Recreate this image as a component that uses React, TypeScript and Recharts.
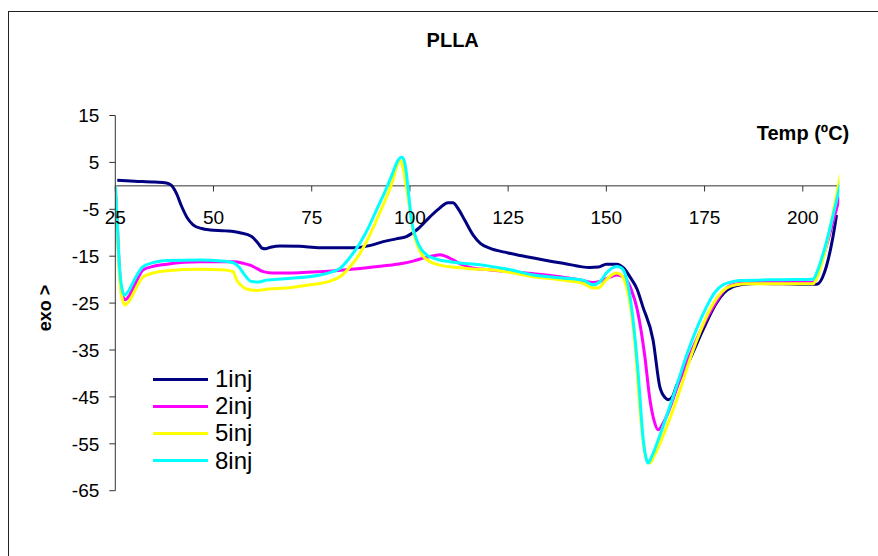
import { LineChart, Line, XAxis, YAxis, ReferenceLine, Legend } from "recharts";

// DSC heating scans of PLLA after repeated injections: [temperature ºC, heat flow]
const xTicks = [25, 50, 75, 100, 125, 150, 175, 200];
const yTicks = [-65, -55, -45, -35, -25, -15, -5, 5, 15];

const inj1: [number, number][] = [
  [25.5, 1.2], [30, 1.0], [35, 0.8], [38, 0.6], [39.3, 0.1], [40.5, -1.5], [41.9, -4.4], [43.3, -6.8], [44.8, -8.3],
  [47, -9.1], [49.1, -9.4], [53, -9.6], [56.7, -10.0], [59.7, -10.8], [61.3, -12.2], [62.4, -13.3], [63.2, -13.4],
  [64.5, -13.1], [66.9, -12.8], [72, -12.9], [77.1, -13.2], [85.6, -13.2], [90, -12.7], [93.2, -11.9],
  [96.5, -11.3], [99.1, -10.8], [102, -9.2], [105.1, -6.6], [107.5, -4.8], [109.7, -3.6], [111, -3.6],
  [111.9, -4.4], [114, -7.4], [116.1, -10.5], [118, -12.3], [120.3, -13.3], [125, -14.3], [129.7, -15.1],
  [139, -16.5], [145.8, -17.4], [148, -17.3], [150, -16.7], [152.6, -16.7], [154.5, -17.6], [156, -19.4],
  [157.8, -22], [159.3, -25.8], [161.9, -32.9], [163.6, -42.8], [165, -45.2], [165.7, -45.6], [166.8, -45],
  [167.8, -42.8], [171.2, -37.1], [174.6, -30.7], [178, -25], [180, -22.8], [182.3, -21.5], [185, -21],
  [188.2, -20.8], [195, -20.9], [203.5, -21], [206, -17.2], [207.7, -10.8], [208.6, -6.2],
];

const inj2: [number, number][] = [
  [25, 0], [25.5, -8], [26, -17], [26.6, -22.5], [27.5, -24.3], [28.5, -23.5], [30, -21], [32.1, -17.9],
  [35, -17.1], [38.1, -16.7], [46.5, -16.2], [55, -16.2], [57.5, -16.5], [59.3, -16.9], [61, -17.6],
  [62.7, -18.3], [65, -18.6], [68.6, -18.6], [77.1, -18.3], [87.3, -17.6], [93, -17.1], [98.3, -16.5],
  [101, -16], [103.4, -15.4], [106, -14.9], [107.6, -14.7], [109, -15], [111, -15.8], [113, -16.7],
  [115.3, -17.4], [120, -17.9], [125.4, -18.3], [132, -18.8], [138.2, -19.4], [144, -20.2], [146.6, -20.6],
  [148.3, -20.4], [150.5, -19.6], [152.6, -19], [154, -19.3], [155.1, -20], [156.5, -22.5], [157.7, -25.8],
  [159.8, -36.4], [161.1, -45.6], [162.2, -50.2], [163.2, -52], [164.9, -49.9], [168.7, -41.4],
  [172.9, -32.9], [177.2, -25.8], [179.3, -23], [181.4, -21.3], [184, -20.8], [186.5, -20.6], [195, -20.6],
  [202.6, -20.6], [203.7, -19], [205.2, -15.1], [209.4, -2.3],
];

const inj5: [number, number][] = [
  [25, 0], [25.5, -9], [26, -18], [26.6, -23.5], [27.5, -25.4], [28.5, -24.6], [30, -22.3], [32.1, -19.4],
  [35, -18.5], [38.1, -18.1], [46.5, -17.8], [52, -17.9], [55, -18.3], [55.9, -20.1], [57, -21.2],
  [58.4, -22], [61, -22.3], [64, -22], [68.6, -21.8], [74.5, -21.1], [77.1, -20.8], [80, -20.2],
  [82.2, -19.4], [84.5, -17.5], [87.3, -14.4], [89.5, -11], [91.5, -7.3], [93.5, -3.5], [95.5, 0.8],
  [96.8, 4.5], [97.4, 5.5], [98.2, 4], [99.1, -0.2], [100, -5], [100.8, -9.4], [102, -12.8], [103.4, -15.1],
  [105.5, -16.3], [107.6, -16.9], [114.4, -17.6], [122.9, -18.1], [131.4, -19.4], [138, -20], [144.1, -20.8],
  [146.6, -21.8], [147.9, -21.8], [150, -20], [152.6, -18.6], [154, -19.2], [155.1, -21.5], [156.2, -26],
  [157.2, -32.9], [158.5, -47.1], [159.8, -57], [160.4, -58.6], [161.1, -59.1], [162.2, -57.5], [164, -54.2],
  [167.9, -45.6], [172.1, -35], [176.3, -26.5], [178.5, -23.5], [180.6, -21.8], [183, -21.1], [185.7, -20.9],
  [195, -20.9], [202.6, -20.9], [203.8, -19.2], [205.2, -15.4], [209.6, 2.5],
];

const inj8: [number, number][] = [
  [25, 0], [25.5, -8], [26, -16.5], [26.6, -21.5], [27.3, -23.3], [28.3, -22.5], [30, -19.8], [32.1, -17.2],
  [35, -16.3], [38.1, -15.9], [46.5, -15.8], [52, -16], [55, -16.4], [56.5, -17.3], [57.6, -18.6],
  [59.7, -20.4], [61.5, -20.5], [63.5, -20.1], [68, -19.8], [77.1, -19], [80, -18.4], [82.2, -17.6],
  [84.5, -15.5], [87.3, -12.2], [89.5, -8.8], [91.5, -5.1], [93.5, -1.5], [95.5, 2.5], [97, 5.5], [97.9, 6.1],
  [98.6, 5.2], [99.1, 2.7], [99.7, -2], [100.4, -7.3], [101.7, -11.5], [104.2, -14.7], [107, -15.7],
  [110.2, -16.2], [118.6, -16.9], [125, -17.8], [131.4, -19], [138, -19.6], [144.1, -20.1], [146.6, -21.1],
  [148.3, -20.5], [150, -18.6], [152.6, -17.2], [153.6, -17.4], [154.7, -18.6], [155.6, -21.5], [156.4, -25.8],
  [158.1, -40], [159.4, -54.2], [160.1, -58], [160.6, -59.1], [161.5, -57.8], [163.2, -54.2], [167, -44.9],
  [171.2, -34.3], [175.5, -25.8], [177.5, -22.8], [179.7, -21.1], [181.8, -20.5], [183.9, -20.2], [195, -20],
  [202.6, -19.9], [203.8, -18], [205.2, -14.4], [209.8, 1.3],
];

const series = [
  { name: "1inj", color: "#000080", points: inj1 },
  { name: "2inj", color: "#FF00FF", points: inj2 },
  { name: "5inj", color: "#FFFF00", points: inj5 },
  { name: "8inj", color: "#00FFFF", points: inj8 },
];

const FONT = '"Liberation Sans", Arial, sans-serif';
const AXIS = "#333";

const toRows = (pts: [number, number][]) => pts.map(([t, v]) => ({ t, v }));

function LegendBox() {
  return (
    <div style={{ fontFamily: FONT }}>
      {series.map((s) => (
        <div key={s.name} style={{ display: "flex", alignItems: "center", height: 27.2 }}>
          <div style={{ width: 55, height: 3, background: s.color, marginRight: 7 }} />
          <span style={{ fontSize: 24, lineHeight: 1, color: "#000" }}>{s.name}</span>
        </div>
      ))}
    </div>
  );
}

const text = (x: number, y: number, extra: React.CSSProperties = {}): React.CSSProperties => ({
  position: "absolute",
  left: x,
  top: y,
  transform: "translate(-50%, -50%)",
  fontFamily: FONT,
  fontWeight: "bold",
  whiteSpace: "nowrap",
  lineHeight: 1,
  ...extra,
});

export default function App() {
  return (
    <div style={{ position: "fixed", left: 0, top: 0, width: 878, height: 556, overflow: "hidden", background: "#fff" }}>
      <div style={{ position: "absolute", left: 8, top: 11, width: 900, height: 600, border: "1px solid #222" }} />
      <div style={{ position: "absolute", left: 0, top: 0 }}>
        <LineChart width={878} height={556} margin={{ top: 115.5, right: 38.7, bottom: 65.3, left: 55.3 }}>
          <XAxis type="number" dataKey="t" domain={[25, 209.3]} hide allowDataOverflow />
          <YAxis
            type="number"
            domain={[-65, 15]}
            ticks={yTicks}
            width={60}
            tickSize={6}
            tickMargin={10}
            axisLine={{ stroke: AXIS }}
            tickLine={{ stroke: AXIS }}
            tick={{ fontSize: 19, fill: "#000", fontFamily: FONT }}
          />
          <ReferenceLine y={0} stroke={AXIS} />
          {xTicks.map((t) => (
            <ReferenceLine
              key={t}
              segment={[{ x: t, y: 0 }, { x: t, y: -1.2 }]}
              stroke={AXIS}
              label={{ value: String(t), position: "bottom", offset: 19, fontSize: 19, fill: "#000", fontFamily: FONT }}
            />
          ))}
          {series.map((s) => (
            <Line
              key={s.name}
              name={s.name}
              data={toRows(s.points)}
              dataKey="v"
              type="monotone"
              stroke={s.color}
              strokeWidth={3}
              dot={false}
              isAnimationActive={false}
            />
          ))}
          <Legend
            layout="vertical"
            align="center"
            verticalAlign="middle"
            content={<LegendBox />}
            wrapperStyle={{ left: 153, top: 365.5, width: 120 }}
          />
        </LineChart>
      </div>
      <div style={text(452.7, 39.7, { fontSize: 20 })}>PLLA</div>
      <div style={text(803, 133, { fontSize: 20 })}>Temp (ºC)</div>
      <div style={text(45, 308, { fontSize: 18, transform: "translate(-50%, -50%) rotate(-90deg)" })}>exo &gt;</div>
    </div>
  );
}
